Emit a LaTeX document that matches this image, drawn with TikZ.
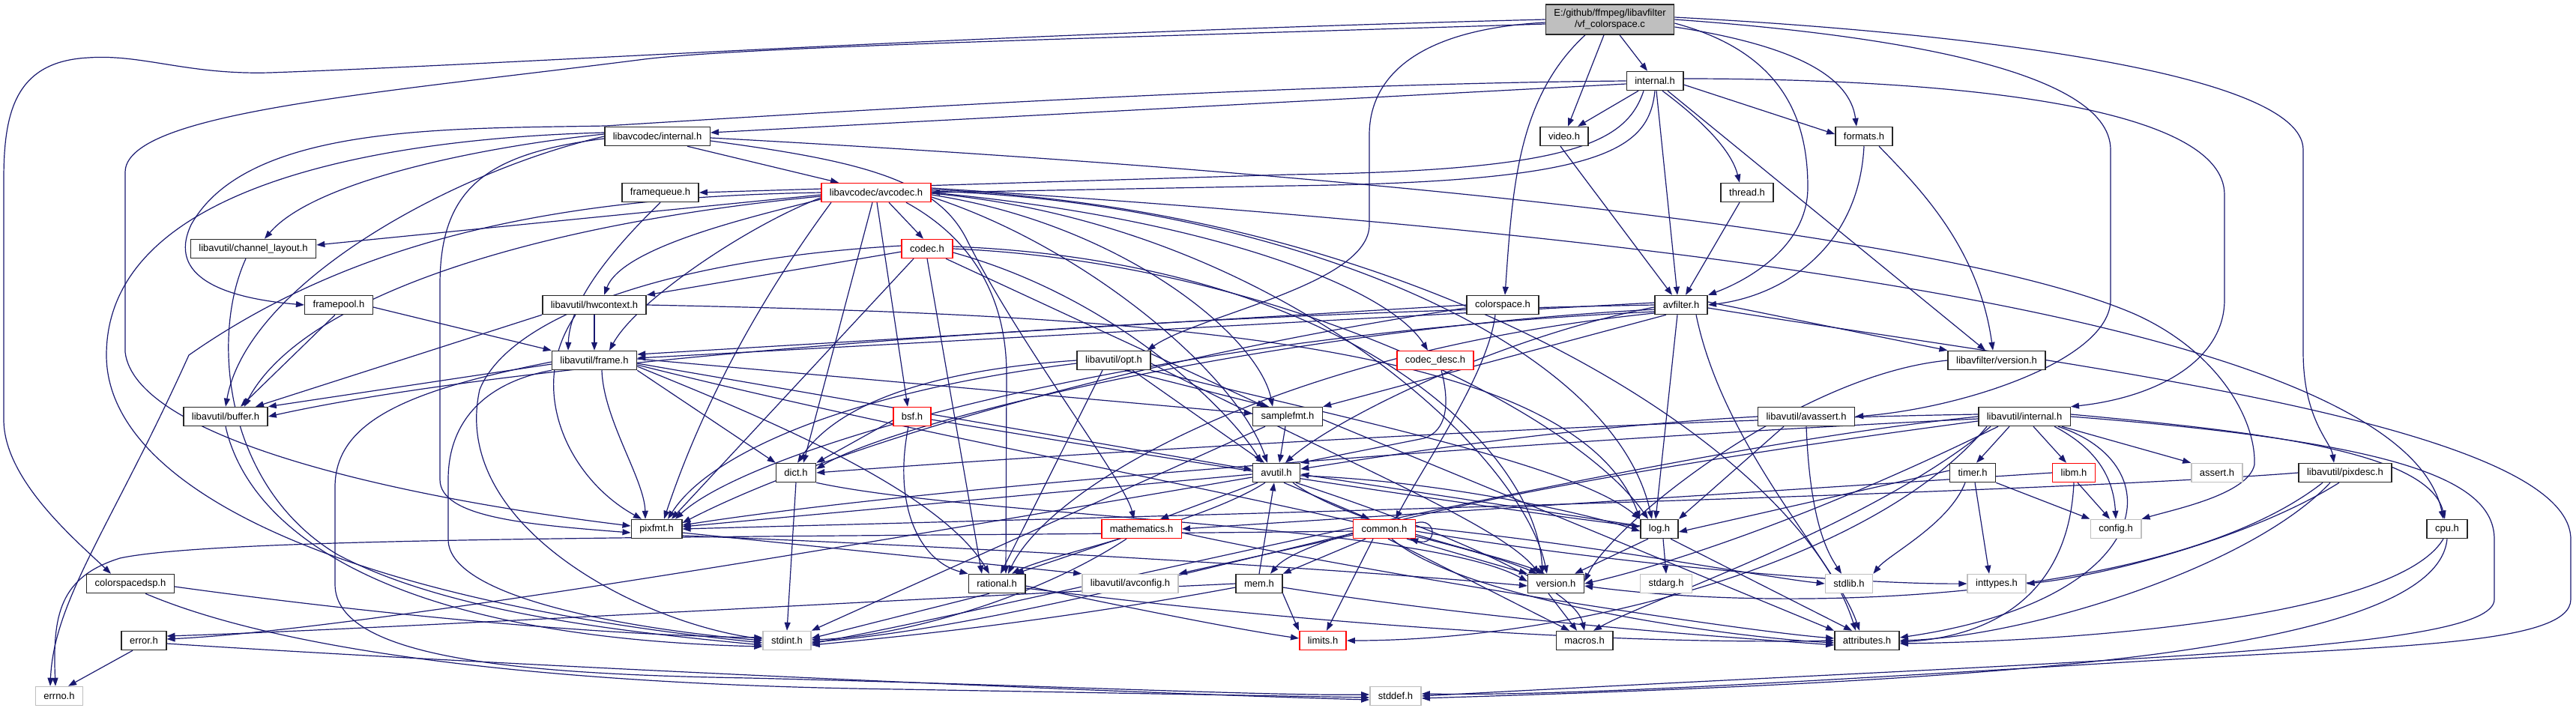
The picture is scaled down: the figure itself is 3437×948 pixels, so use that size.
\documentclass[tikz,border=0pt]{standalone}
\usepackage{fontspec}
\setmainfont{Liberation Sans}
\usetikzlibrary{arrows.meta}
\definecolor{edgeblue}{RGB}{25,25,112}
\definecolor{boxgray}{RGB}{191,191,191}
\pgfdeclarelayer{edges}
\pgfsetlayers{edges,main}
\begin{document}
\begin{tikzpicture}[x=1pt,y=-1pt,
  hdr/.style={draw=black!85,line width=1.5pt,fill=white,font=\fontsize{13}{15}\selectfont,inner xsep=11pt,inner ysep=0pt,minimum height=25pt},
  hdrtrunc/.style={hdr,draw=red},
  hdrsys/.style={hdr,draw=boxgray},
  srcfile/.style={hdr,fill=boxgray,align=center,minimum height=40pt,minimum width=170pt},
  dep/.style={draw=edgeblue,line width=1.2pt,-{Triangle[length=11pt,width=8pt]}}]
\useasboundingbox (0,0) rectangle (3437,948);
\node[srcfile] (n-main) at (2148,26) {E:/github/ffmpeg/libavfilter\\/vf\_colorspace.c};
\node[hdr] (n-avfint) at (2208,108) {internal.h};
\node[hdr] (n-video) at (2087,182) {video.h};
\node[hdr] (n-formats) at (2487,182) {formats.h};
\node[hdr] (n-lcint) at (877,182) {libavcodec/internal.h};
\node[hdr] (n-fqueue) at (881,257) {framequeue.h};
\node[hdrtrunc] (n-avcodec) at (1169,257) {libavcodec/avcodec.h};
\node[hdr] (n-thread) at (2331,257) {thread.h};
\node[hdr] (n-chlayout) at (338,332) {libavutil/channel\_layout.h};
\node[hdrtrunc] (n-codec) at (1237,332) {codec.h};
\node[hdr] (n-fpool) at (452,407) {framepool.h};
\node[hdr] (n-hwctx) at (793,407) {libavutil/hwcontext.h};
\node[hdr] (n-cspace) at (2005,407) {colorspace.h};
\node[hdr] (n-avfilter) at (2243,407) {avfilter.h};
\node[hdr] (n-frame) at (793,481) {libavutil/frame.h};
\node[hdr] (n-opt) at (1486,481) {libavutil/opt.h};
\node[hdrtrunc] (n-cdesc) at (1915,481) {codec\_desc.h};
\node[hdr] (n-lfversion) at (2664,481) {libavfilter/version.h};
\node[hdr] (n-buffer) at (301,556) {libavutil/buffer.h};
\node[hdrtrunc] (n-bsf) at (1217,556) {bsf.h};
\node[hdr] (n-sfmt) at (1718,556) {samplefmt.h};
\node[hdr] (n-avassert) at (2410,556) {libavutil/avassert.h};
\node[hdr] (n-luint) at (2701,556) {libavutil/internal.h};
\node[hdr] (n-dict) at (1062,631) {dict.h};
\node[hdr] (n-avutil) at (1703,631) {avutil.h};
\node[hdr] (n-timer) at (2632,631) {timer.h};
\node[hdrtrunc] (n-libm) at (2767,631) {libm.h};
\node[hdrsys] (n-assert) at (2958,631) {assert.h};
\node[hdr] (n-pixdesc) at (3129,631) {libavutil/pixdesc.h};
\node[hdr] (n-pixfmt) at (876,706) {pixfmt.h};
\node[hdrtrunc] (n-math) at (1523,706) {mathematics.h};
\node[hdrtrunc] (n-common) at (1847,706) {common.h};
\node[hdr] (n-log) at (2214,706) {log.h};
\node[hdrsys] (n-config) at (2823,706) {config.h};
\node[hdr] (n-cpu) at (3265,706) {cpu.h};
\node[hdr] (n-csdsp) at (174,779) {colorspacedsp.h};
\node[hdr] (n-rational) at (1330,779) {rational.h};
\node[hdrsys] (n-avconfig) at (1508,779) {libavutil/avconfig.h};
\node[hdr] (n-mem) at (1680,779) {mem.h};
\node[hdr] (n-version) at (2076,779) {version.h};
\node[hdrsys] (n-stdarg) at (2223,779) {stdarg.h};
\node[hdrsys] (n-stdlib) at (2467,779) {stdlib.h};
\node[hdrsys] (n-inttypes) at (2664,779) {inttypes.h};
\node[hdr] (n-error) at (192,855) {error.h};
\node[hdrsys] (n-stdint) at (1050,855) {stdint.h};
\node[hdrtrunc] (n-limits) at (1765,855) {limits.h};
\node[hdr] (n-macros) at (2114,855) {macros.h};
\node[hdr] (n-attrs) at (2491,855) {attributes.h};
\node[hdrsys] (n-errno) at (79,929) {errno.h};
\node[hdrsys] (n-stddef) at (1862,929) {stddef.h};
\begin{pgfonlayer}{edges}
\draw[dep] (n-main.west) .. controls (1300,45) and (700,85) .. (360,97) .. controls (250,100) and (190,72) .. (118,77) .. controls (20,82) and (5,150) .. (5,240) -- (5,560) .. controls (5,640) and (100,720) .. ([xshift=-26pt]n-csdsp.north);
\draw[dep] ([yshift=-6pt]n-main.west) .. controls (1500,50) and (1000,62) .. (860,79) .. controls (500,125) and (167,150) .. (167,230) -- (167,470) .. controls (180,580) and (500,660) .. ([yshift=4pt]n-pixfmt.west);
\draw[dep] ([yshift=-4pt]n-main.west) .. controls (1880,40) and (1827,110) .. (1827,180) -- (1827,300) .. controls (1827,380) and (1600,420) .. ([xshift=-5pt]n-opt.north east);
\draw[dep] ([xshift=-33pt]n-main.south) .. controls (2025,130) and (2018,250) .. ([xshift=3pt]n-cspace.north);
\draw[dep] ([xshift=-8pt]n-main.south) -- ([xshift=5pt]n-video.north);
\draw[dep] ([xshift=13pt]n-main.south) -- ([xshift=-10pt]n-avfint.north);
\draw[dep] ([yshift=-5pt]n-main.east) .. controls (2380,70) and (2412,160) .. (2412,250) .. controls (2412,330) and (2330,375) .. (n-avfilter.north east);
\draw[dep] ([yshift=-10pt]n-main.east) .. controls (2390,60) and (2468,100) .. ([xshift=-10pt]n-formats.north);
\draw[dep] (n-main.east) .. controls (2500,45) and (2816,90) .. (2816,200) -- (2816,400) .. controls (2816,480) and (2620,545) .. (n-avassert.east);
\draw[dep] ([yshift=3pt]n-main.east) .. controls (2650,45) and (3073,100) .. (3073,200) -- (3073,470) .. controls (3073,560) and (3110,590) .. ([xshift=-15pt]n-pixdesc.north);
\draw[dep] ([yshift=-4pt]n-avfint.west) -- ([yshift=5pt]n-lcint.east);
\draw[dep] (n-avfint.west) .. controls (1700,112) and (1100,150) .. (808,168) .. controls (600,172) and (330,165) .. (255,300) .. controls (222,370) and (300,398) .. (n-fpool.west);
\draw[dep] ([xshift=-15pt]n-avfint.south) .. controls (2170,190) and (2100,228) .. (1720,233) -- (n-fqueue.east);
\draw[dep] (n-avfint.south) .. controls (2200,200) and (2140,243) .. (1720,248) -- (n-avcodec.east);
\draw[dep] ([xshift=-22pt]n-avfint.south) -- ([xshift=18pt]n-video.north);
\draw[dep] ([xshift=2pt]n-avfint.south) -- ([xshift=-5pt]n-avfilter.north);
\draw[dep] ([xshift=10pt]n-avfint.south) .. controls (2270,160) and (2310,200) .. ([xshift=-10pt]n-thread.north);
\draw[dep] ([yshift=-5pt]n-avfint.east) -- ([yshift=3pt]n-formats.west);
\draw[dep] ([xshift=17pt]n-avfint.south) -- ([xshift=-15pt]n-lfversion.north);
\draw[dep] ([yshift=3pt]n-avfint.east) .. controls (2600,105) and (2968,140) .. (2968,260) -- (2968,400) .. controls (2968,480) and (2880,530) .. (n-luint.north east);
\draw[dep] ([xshift=-5pt]n-video.south) -- ([xshift=-12pt]n-avfilter.north);
\draw[dep] (n-formats.south) .. controls (2480,330) and (2380,395) .. (n-avfilter.east);
\draw[dep] ([xshift=20pt]n-formats.south) .. controls (2560,250) and (2640,330) .. ([xshift=-5pt]n-lfversion.north);
\draw[dep] ([xshift=-10pt]n-thread.south) -- ([xshift=6pt]n-avfilter.north);
\draw[dep] ([xshift=40pt]n-lcint.south) -- ([xshift=-50pt]n-avcodec.north);
\draw[dep] ([yshift=3pt]n-lcint.west) .. controls (650,195) and (420,240) .. ([xshift=15pt]n-chlayout.north);
\draw[dep] (n-lcint.west) .. controls (600,230) and (330,380) .. (n-buffer.north);
\draw[dep] ([yshift=5pt]n-lcint.west) .. controls (500,185) and (142,250) .. (142,474) .. controls (142,650) and (450,800) .. ([yshift=-3pt]n-stdint.west);
\draw[dep] ([yshift=-6pt]n-lcint.east) .. controls (1150,215) and (1250,240) .. (1290,320) .. controls (1360,460) and (1500,640) .. ([xshift=-10pt]n-math.north);
\draw[dep] ([yshift=-3pt]n-lcint.west) .. controls (650,205) and (587,250) .. (587,380) -- (587,640) .. controls (587,690) and (700,700) .. ([yshift=-5pt]n-pixfmt.west);
\draw[dep] ([yshift=-2pt]n-lcint.east) .. controls (1800,230) and (2600,310) .. (2850,420) .. controls (2960,470) and (3010,560) .. (3008,620) .. controls (3000,660) and (2900,680) .. (n-config.north east);
\draw[dep] (n-avcodec.west) .. controls (800,262) and (500,300) .. (252,474) .. controls (150,700) and (72,800) .. ([xshift=-12pt]n-errno.north);
\draw[dep] ([yshift=-3pt]n-avcodec.west) -- ([yshift=5pt]n-chlayout.east);
\draw[dep] ([yshift=-5pt]n-avcodec.west) .. controls (700,300) and (400,400) .. ([xshift=25pt]n-buffer.north);
\draw[dep] ([yshift=-7pt]n-avcodec.west) .. controls (1000,300) and (850,400) .. ([xshift=20pt]n-frame.north);
\draw[dep] ([yshift=-9pt]n-avcodec.west) .. controls (1000,290) and (830,330) .. ([xshift=13pt]n-hwctx.north);
\draw[dep] ([xshift=-60pt]n-avcodec.south) .. controls (1050,350) and (950,500) .. ([xshift=10pt]n-pixfmt.north);
\draw[dep] ([xshift=-5pt]n-avcodec.south) -- ([xshift=10pt]n-dict.north);
\draw[dep] ([xshift=1pt]n-avcodec.south) -- ([xshift=-6pt]n-bsf.north);
\draw[dep] ([xshift=17pt]n-avcodec.south) -- ([xshift=-5pt]n-codec.north);
\draw[dep] ([xshift=40pt]n-avcodec.south) .. controls (1300,320) and (1343,400) .. (1343,500) -- ([xshift=12pt]n-rational.north);
\draw[dep] (n-avcodec.east) .. controls (1600,290) and (1850,380) .. ([xshift=-10pt]n-cdesc.north);
\draw[dep] ([yshift=-3pt]n-avcodec.east) .. controls (1500,300) and (1680,450) .. ([xshift=-20pt]n-sfmt.north);
\draw[dep] ([yshift=-6pt]n-avcodec.east) .. controls (1450,330) and (1650,500) .. ([xshift=-12pt]n-avutil.north);
\draw[dep] ([yshift=2pt]n-avcodec.east) .. controls (1700,270) and (2150,450) .. ([xshift=-10pt]n-log.north);
\draw[dep] ([yshift=-1pt]n-avcodec.east) .. controls (1700,300) and (2030,600) .. ([xshift=-12pt]n-version.north);
\draw[dep] ([yshift=4pt]n-avcodec.east) .. controls (1900,280) and (2400,600) .. ([xshift=-15pt]n-attrs.north);
\draw[dep] ([yshift=6pt]n-avcodec.east) .. controls (2000,300) and (3200,400) .. ([xshift=-5pt]n-cpu.north);
\draw[dep] ([yshift=-4pt]n-codec.west) -- (n-hwctx.north east);
\draw[dep] ([xshift=-18pt]n-codec.south) -- ([xshift=20pt]n-pixfmt.north);
\draw[dep] ([yshift=4pt]n-codec.west) .. controls (900,345) and (680,420) .. (640,520) .. controls (600,700) and (850,830) .. ([yshift=2pt]n-stdint.west);
\draw[dep] (n-codec.south) -- ([xshift=-20pt]n-rational.north);
\draw[dep] ([xshift=25pt]n-codec.south) -- ([xshift=-30pt]n-sfmt.north);
\draw[dep] ([yshift=-5pt]n-codec.east) .. controls (1500,400) and (1650,560) .. ([xshift=-20pt]n-avutil.north);
\draw[dep] (n-codec.east) .. controls (1700,350) and (2100,550) .. ([xshift=-15pt]n-log.north);
\draw[dep] ([yshift=3pt]n-codec.east) .. controls (1800,350) and (2050,600) .. ([xshift=-18pt]n-version.north);
\draw[dep] ([yshift=-5pt]n-bsf.west) -- (n-dict.north east);
\draw[dep] ([xshift=-5pt]n-bsf.south) .. controls (1190,680) and (1230,750) .. (n-rational.north west);
\draw[dep] ([yshift=-4pt]n-bsf.east) .. controls (1600,620) and (2000,680) .. ([yshift=3pt]n-log.west);
\draw[dep] ([xshift=8pt]n-cdesc.south) .. controls (1935,540) and (1930,575) .. (1900,585) -- (n-avutil.north east);
\draw[dep] (n-hwctx.south west) -- ([xshift=40pt]n-buffer.north);
\draw[dep] (n-hwctx.south) -- (n-frame.north);
\draw[dep] (n-hwctx.east) .. controls (1500,420) and (2100,450) .. (n-log.north west);
\draw[dep] ([xshift=-25pt]n-hwctx.south) .. controls (700,520) and (760,640) .. ([xshift=-20pt]n-pixfmt.north);
\draw[dep] ([xshift=-10pt]n-chlayout.south) .. controls (280,450) and (300,650) .. (450,740) .. controls (600,820) and (850,845) .. ([yshift=-6pt]n-stdint.west);
\draw[dep] ([xshift=-5pt]n-fpool.south) -- ([xshift=20pt]n-buffer.north);
\draw[dep] ([yshift=-3pt]n-fpool.east) -- (n-frame.north west);
\draw[dep] (n-fqueue.south) .. controls (820,330) and (760,400) .. ([xshift=-35pt]n-frame.north);
\draw[dep] ([yshift=-5pt]n-frame.west) -- (n-buffer.north east);
\draw[dep] ([xshift=10pt]n-frame.south) .. controls (805,560) and (860,640) .. ([xshift=-15pt]n-pixfmt.north);
\draw[dep] ([yshift=-2pt]n-frame.west) .. controls (550,520) and (447,560) .. (447,650) -- (447,780) .. controls (447,880) and (700,900) .. (1000,905) .. controls (1400,915) and (1700,929) .. ([yshift=2pt]n-stddef.west);
\draw[dep] (n-frame.south west) .. controls (650,510) and (598,560) .. (598,640) -- (598,720) .. controls (598,800) and (850,840) .. (n-stdint.west);
\draw[dep] ([yshift=-4pt]n-frame.east) -- ([yshift=4pt]n-avutil.west);
\draw[dep] (n-frame.south east) -- (n-dict.north west);
\draw[dep] ([yshift=-8pt]n-frame.east) .. controls (1000,550) and (1250,650) .. ([xshift=-10pt]n-rational.north);
\draw[dep] ([yshift=2pt]n-frame.east) -- ([yshift=4pt]n-sfmt.west);
\draw[dep] ([yshift=-6pt]n-frame.east) .. controls (1300,600) and (1900,700) .. ([xshift=-25pt]n-version.north);
\draw[dep] (n-buffer.south) .. controls (330,700) and (500,850) .. ([yshift=-8pt]n-stdint.west);
\draw[dep] ([yshift=-4pt]n-csdsp.east) .. controls (500,820) and (800,848) .. ([yshift=4pt]n-stdint.west);
\draw[dep] ([xshift=20pt]n-csdsp.south) .. controls (400,880) and (800,915) .. (1200,920) -- ([yshift=-2pt]n-stddef.west);
\draw[dep] ([xshift=-15pt]n-error.south) -- ([xshift=12pt]n-errno.north);
\draw[dep] ([yshift=-4pt]n-error.east) .. controls (700,890) and (1500,925) .. ([yshift=-5pt]n-stddef.west);
\draw[dep] (n-opt.west) .. controls (1300,490) and (1130,520) .. ([xshift=2pt]n-dict.north);
\draw[dep] ([yshift=-4pt]n-opt.west) .. controls (1150,520) and (950,600) .. ([xshift=15pt]n-pixfmt.north);
\draw[dep] ([xshift=-15pt]n-opt.south) -- ([xshift=5pt]n-rational.north);
\draw[dep] ([xshift=15pt]n-opt.south) -- ([xshift=-25pt]n-sfmt.north);
\draw[dep] ([xshift=25pt]n-opt.south) -- ([xshift=-16pt]n-avutil.north);
\draw[dep] (n-opt.south east) .. controls (1800,560) and (2100,620) .. (n-log.north west);
\draw[dep] ([yshift=-4pt]n-opt.east) .. controls (1800,620) and (2000,700) .. ([xshift=-22pt]n-version.north);
\draw[dep] ([xshift=-3pt]n-sfmt.south) -- ([xshift=4pt]n-avutil.north);
\draw[dep] ([xshift=-30pt]n-sfmt.south) -- (n-stdint.north east);
\draw[dep] ([yshift=-4pt]n-sfmt.east) -- (n-attrs.north west);
\draw[dep] (n-avassert.south) .. controls (2415,700) and (2440,740) .. ([xshift=-10pt]n-stdlib.north);
\draw[dep] ([xshift=-30pt]n-avassert.south) -- (n-log.north east);
\draw[dep] (n-avassert.west) .. controls (2100,570) and (1900,600) .. ([yshift=5pt]n-avutil.east);
\draw[dep] ([xshift=-20pt]n-luint.south) -- ([xshift=5pt]n-timer.north);
\draw[dep] ([xshift=12pt]n-luint.south) -- ([xshift=-10pt]n-libm.north);
\draw[dep] ([xshift=40pt]n-luint.south) .. controls (2800,600) and (2820,640) .. (n-config.north);
\draw[dep] ([xshift=50pt]n-luint.south) -- (n-assert.north west);
\draw[dep] ([yshift=3pt]n-luint.east) .. controls (3000,575) and (3240,600) .. ([xshift=-3pt]n-cpu.north);
\draw[dep] (n-luint.east) .. controls (3200,590) and (3328,640) .. (3328,720) -- (3328,800) .. controls (3328,870) and (2800,880) .. (n-stddef.east);
\draw[dep] ([xshift=45pt]n-luint.south) .. controls (2900,620) and (2880,800) .. ([yshift=4pt]n-attrs.east);
\draw[dep] ([xshift=-50pt]n-luint.south) .. controls (2500,750) and (2100,855) .. (n-limits.east);
\draw[dep] (n-luint.west) .. controls (2200,600) and (1400,800) .. ([yshift=-4pt]n-stdint.east);
\draw[dep] ([yshift=3pt]n-luint.west) .. controls (2200,560) and (1500,600) .. (n-dict.east);
\draw[dep] ([yshift=-3pt]n-luint.west) .. controls (2200,580) and (1300,640) .. ([yshift=5pt]n-pixfmt.east);
\draw[dep] ([xshift=-45pt]n-luint.south) .. controls (2500,700) and (2200,800) .. ([xshift=12pt]n-macros.north);
\draw[dep] ([yshift=-6pt]n-luint.west) .. controls (2200,620) and (1750,700) .. ([xshift=15pt]n-mem.north);
\draw[dep] ([xshift=-35pt]n-luint.south) .. controls (2400,700) and (2200,760) .. (n-version.east);
\draw[dep] (n-timer.south east) -- (n-config.north west);
\draw[dep] ([xshift=3pt]n-timer.south) -- ([xshift=-10pt]n-inttypes.north);
\draw[dep] ([yshift=3pt]n-timer.west) -- ([yshift=-4pt]n-log.east);
\draw[dep] ([xshift=-10pt]n-timer.south) .. controls (2600,700) and (2520,740) .. (n-stdlib.north east);
\draw[dep] ([xshift=5pt]n-libm.south) -- ([xshift=-8pt]n-config.north);
\draw[dep] (n-libm.west) -- (n-math.east);
\draw[dep] (n-libm.south) .. controls (2760,800) and (2650,850) .. ([yshift=-2pt]n-attrs.east);
\draw[dep] ([xshift=-8pt]n-pixdesc.south) .. controls (3000,720) and (2800,770) .. (n-inttypes.east);
\draw[dep] ([xshift=-20pt]n-pixdesc.south) .. controls (3000,760) and (2700,850) .. (n-attrs.east);
\draw[dep] (n-pixdesc.west) .. controls (2700,660) and (1500,690) .. (n-pixfmt.east);
\draw[dep] ([xshift=-30pt]n-pixdesc.south) .. controls (2900,800) and (2400,820) .. ([yshift=-3pt]n-version.east);
\draw[dep] ([xshift=-5pt]n-cpu.south) .. controls (3200,820) and (2800,855) .. ([yshift=-4pt]n-attrs.east);
\draw[dep] (n-cpu.south) .. controls (3250,880) and (2600,910) .. ([yshift=-3pt]n-stddef.east);
\draw[dep] (n-dict.south) -- (n-stdint.north);
\draw[dep] (n-dict.south east) .. controls (1300,690) and (1900,700) .. ([yshift=3pt]n-version.west);
\draw[dep] ([xshift=10pt]n-avutil.south) -- ([xshift=-20pt]n-common.north);
\draw[dep] ([yshift=-6pt]n-avutil.west) .. controls (1300,700) and (500,840) .. ([yshift=2pt]n-error.east);
\draw[dep] ([xshift=-15pt]n-avutil.south) .. controls (1600,700) and (1400,740) .. ([xshift=20pt]n-rational.north);
\draw[dep] ([xshift=22pt]n-avutil.south) .. controls (1800,700) and (2000,740) .. ([xshift=-15pt]n-version.north);
\draw[dep] ([xshift=26pt]n-avutil.south) .. controls (1900,700) and (2100,780) .. (n-macros.north);
\draw[dep] ([xshift=-25pt]n-avutil.south) -- ([xshift=25pt]n-math.north);
\draw[dep] ([yshift=-4pt]n-avutil.east) .. controls (1900,640) and (2100,680) .. ([yshift=-3pt]n-log.west);
\draw[dep] ([yshift=-2pt]n-avutil.west) -- ([yshift=3pt]n-pixfmt.east);
\draw[dep] ([yshift=-5pt]n-pixfmt.east) -- (n-avconfig.north west);
\draw[dep] ([yshift=-9pt]n-pixfmt.east) .. controls (1300,730) and (1800,760) .. ([yshift=-3pt]n-version.west);
\draw[dep] ([xshift=-30pt]n-math.south) -- ([xshift=25pt]n-rational.north);
\draw[dep] ([xshift=-20pt]n-math.south) .. controls (1380,800) and (1200,850) .. ([yshift=1pt]n-stdint.east);
\draw[dep] ([yshift=-5pt]n-math.east) .. controls (1800,760) and (2300,840) .. ([yshift=3pt]n-attrs.west);
\draw[dep] ([xshift=-10pt]n-rational.south) -- ([yshift=3pt]n-stdint.east);
\draw[dep] ([yshift=-3pt]n-rational.east) .. controls (1500,810) and (1650,840) .. ([yshift=3pt]n-limits.west);
\draw[dep] ([yshift=-6pt]n-rational.east) .. controls (1800,840) and (2200,860) .. (n-attrs.west);
\draw[dep] ([yshift=8pt]n-common.east) .. controls (1918,690) and (1918,730) .. ([xshift=-8pt]n-common.south east);
\draw[dep] ([yshift=-3pt]n-common.west) .. controls (1000,718) and (300,715) .. (160,745) .. controls (80,770) and (70,820) .. ([xshift=-5pt]n-errno.north);
\draw[dep] ([yshift=-3pt]n-common.east) .. controls (2200,760) and (2500,780) .. (n-inttypes.west);
\draw[dep] ([xshift=-15pt]n-common.south) -- ([xshift=5pt]n-limits.north);
\draw[dep] ([yshift=-6pt]n-common.west) .. controls (1600,760) and (1300,840) .. ([yshift=-2pt]n-stdint.east);
\draw[dep] ([yshift=3pt]n-common.east) .. controls (2150,730) and (2350,770) .. (n-stdlib.west);
\draw[dep] ([xshift=10pt]n-common.south) .. controls (1950,800) and (2300,850) .. ([yshift=-3pt]n-attrs.west);
\draw[dep] ([xshift=5pt]n-common.south) -- ([xshift=-20pt]n-macros.north);
\draw[dep] ([xshift=30pt]n-common.south) -- (n-version.north west);
\draw[dep] ([yshift=-8pt]n-common.west) -- (n-avconfig.north east);
\draw[dep] ([xshift=-25pt]n-common.south) -- (n-mem.north east);
\draw[dep] (n-mem.north) -- ([xshift=-3pt]n-avutil.south);
\draw[dep] (n-mem.west) .. controls (1200,800) and (500,840) .. ([yshift=6pt]n-error.east);
\draw[dep] ([yshift=-5pt]n-mem.west) .. controls (1400,830) and (1200,850) .. ([yshift=-6pt]n-stdint.east);
\draw[dep] (n-mem.south east) -- (n-limits.north west);
\draw[dep] ([yshift=-5pt]n-mem.east) .. controls (2000,830) and (2300,850) .. ([yshift=-6pt]n-attrs.west);
\draw[dep] ([xshift=5pt]n-log.south) -- (n-stdarg.north);
\draw[dep] ([xshift=-15pt]n-log.south) -- ([xshift=25pt]n-version.north);
\draw[dep] ([xshift=15pt]n-log.south) -- ([xshift=-20pt]n-attrs.north);
\draw[dep] ([yshift=4pt]n-log.west) -- ([yshift=-2pt]n-avutil.east);
\draw[dep] ([xshift=-10pt]n-version.south) -- ([xshift=-10pt]n-macros.north);
\draw[dep] (n-lfversion.west) .. controls (2400,500) and (2150,700) .. ([yshift=3pt]n-version.east);
\draw[dep] ([yshift=-4pt]n-avfilter.east) .. controls (2700,480) and (3430,560) .. (3430,720) -- (3430,800) .. controls (3430,860) and (3200,862) .. (2900,880) .. controls (2400,910) and (2100,929) .. ([yshift=3pt]n-stddef.east);
\draw[dep] ([xshift=20pt]n-avfilter.south) .. controls (2300,600) and (2450,750) .. ([xshift=-10pt]n-attrs.north);
\draw[dep] ([yshift=-3pt]n-avfilter.west) .. controls (2000,450) and (1780,560) .. ([xshift=12pt]n-avutil.north);
\draw[dep] (n-avfilter.west) .. controls (1500,420) and (700,480) .. (n-buffer.east);
\draw[dep] ([yshift=-6pt]n-avfilter.west) .. controls (1700,440) and (1200,560) .. ([yshift=5pt]n-dict.east);
\draw[dep] ([yshift=3pt]n-avfilter.west) -- ([yshift=3pt]n-frame.east);
\draw[dep] ([xshift=-5pt]n-avfilter.south) -- ([xshift=-5pt]n-log.north);
\draw[dep] ([xshift=-20pt]n-avfilter.south) -- (n-sfmt.north east);
\draw[dep] ([yshift=-9pt]n-avfilter.west) .. controls (1500,450) and (1000,600) .. ([xshift=25pt]n-pixfmt.north);
\draw[dep] ([yshift=-11pt]n-avfilter.west) .. controls (1700,470) and (1400,650) .. ([xshift=15pt]n-rational.north);
\draw[dep] ([yshift=4pt]n-avfilter.east) -- (n-lfversion.north west);
\draw[dep] (n-cspace.west) -- ([yshift=8pt]n-frame.east);
\draw[dep] ([xshift=-10pt]n-cspace.south) .. controls (1985,500) and (1900,620) .. ([xshift=15pt]n-common.north);
\draw[dep] ([yshift=-4pt]n-cspace.west) .. controls (1500,480) and (1100,600) .. ([yshift=8pt]n-pixfmt.east);
\end{pgfonlayer}
\end{tikzpicture}
\end{document}
